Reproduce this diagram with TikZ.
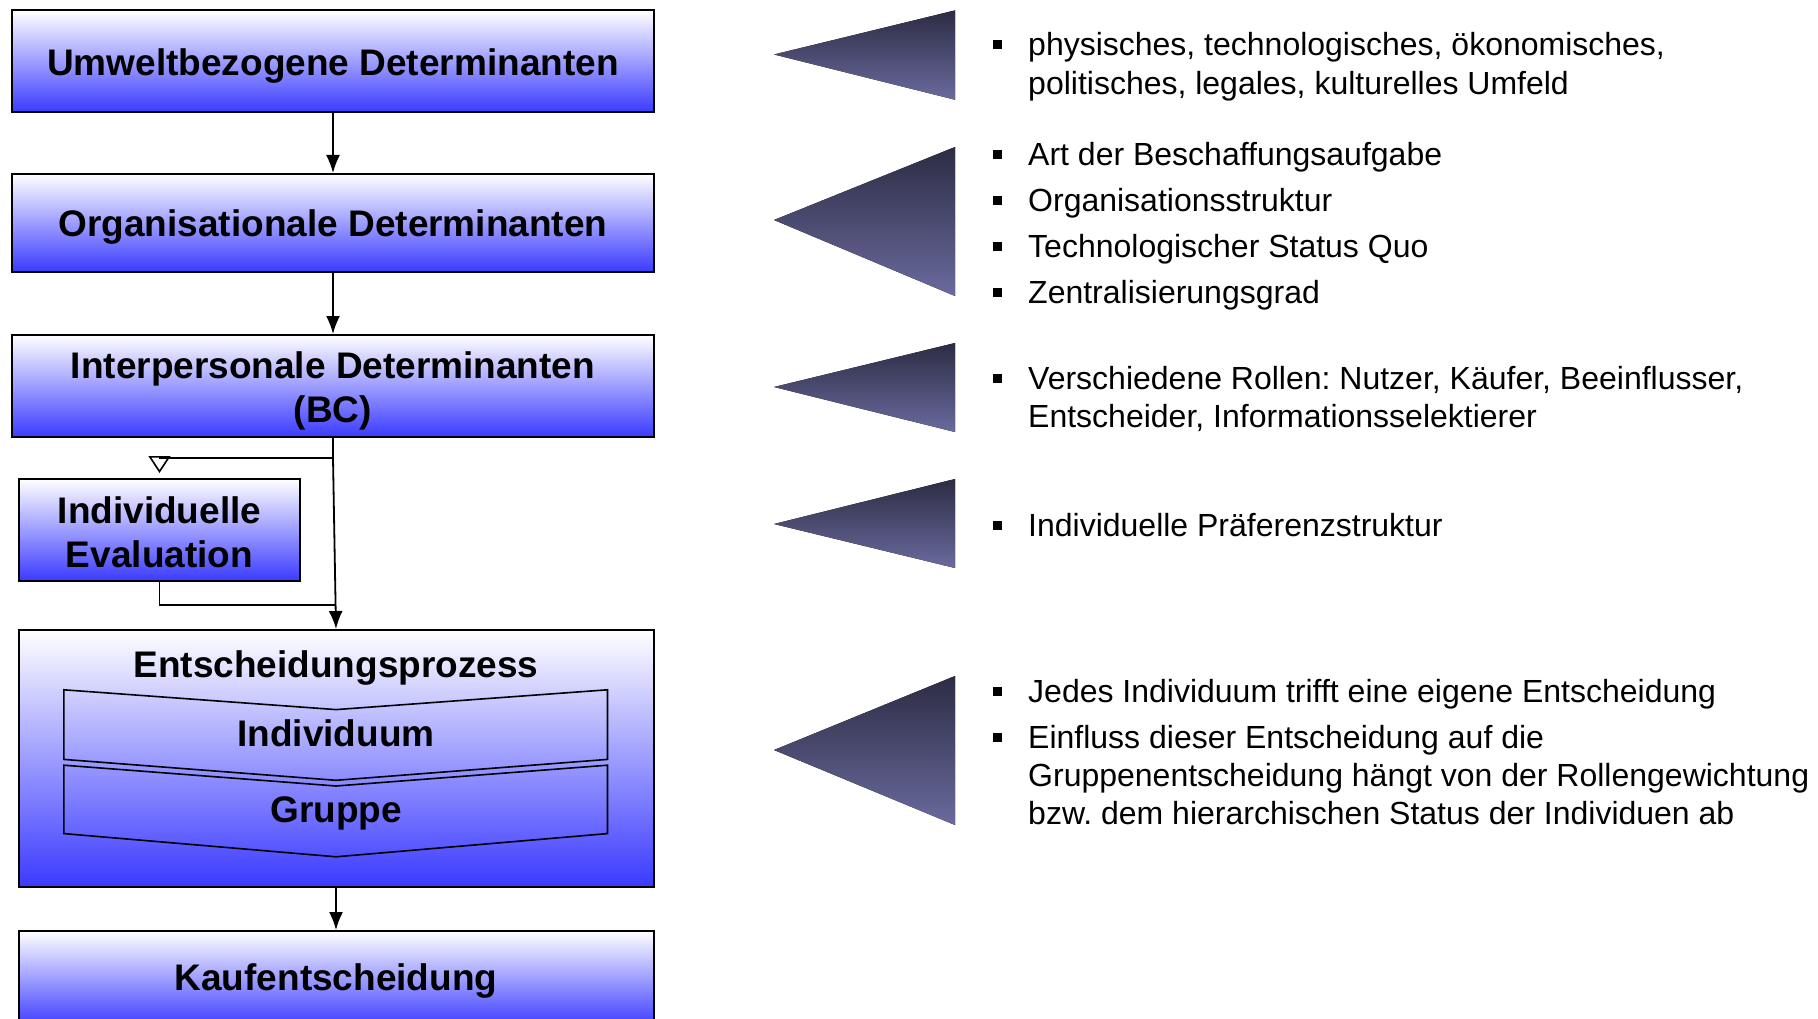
\documentclass[tikz,border=0pt]{standalone}
\usepackage{fontspec}
\setmainfont{Liberation Sans}
\usetikzlibrary{arrows.meta}
\definecolor{boxblue}{RGB}{58,58,255}
\definecolor{tridark}{RGB}{44,44,68}
\definecolor{trilight}{RGB}{106,106,158}
\frenchspacing
\begin{document}
\begin{tikzpicture}[x=1pt,y=-1pt,
  detbox/.style={draw=black, line width=2pt, top color=white, bottom color=boxblue, inner sep=0pt},
  boxtext/.style={font=\bfseries\fontsize{37}{44.5}\selectfont, align=center, inner sep=0pt},
  lbl/.style={font=\bfseries\fontsize{37}{44.5}\selectfont, inner sep=0pt, anchor=base},
  conn/.style={line width=1.8pt, -{Latex[length=18pt,width=14pt]}},
  openconn/.style={line width=1.8pt, shorten >=5pt, -{Triangle[open,length=17pt,width=22pt,line width=1.6pt]}},
  plainconn/.style={line width=1.8pt},
  chev/.style={draw=black, line width=1.6pt},
  tri/.style={top color=tridark, bottom color=trilight, draw=none},
  btext/.style={anchor=base west, font=\fontsize{32}{38.4}\selectfont, inner sep=0pt},
  bul/.style={fill=black, minimum size=9pt, inner sep=0pt}
]
\path[use as bounding box] (0,0) rectangle (1818,1019);
\clip (0,0) rectangle (1818,1019);
\fill[white] (0,0) rectangle (1818,1019);

% left column boxes
\node[detbox, minimum width=642pt, minimum height=102pt] (ud) at (333,61.5) {};
\node[boxtext] (udt) at (333,66) {Umweltbezogene Determinanten};
\node[detbox, minimum width=642pt, minimum height=98pt] (od) at (333,223) {};
\node[boxtext] (odt) at (333,227.5) {Organisationale Determinanten};
\node[detbox, minimum width=642pt, minimum height=102pt] (ip) at (333,386) {};
\node[boxtext] (ipt) at (333,391) {Interpersonale Determinanten\\(BC)};
\node[detbox, minimum width=281pt, minimum height=102pt] (ie) at (159.5,530) {};
\node[boxtext] (iet) at (159.5,532.5) {Individuelle\\Evaluation};
\node[detbox, minimum width=635pt, minimum height=257pt] (ep) at (336,758.5) {};
\node[lbl] (epl) at (336,677) {Entscheidungsprozess};
\node[detbox, minimum width=635pt, minimum height=96pt] (kf) at (336,979) {};
\node[boxtext] (kft) at (336,981.5) {Kaufentscheidung};

% chevrons inside the decision process
\draw[chev] (63.8,689.8) -- (336,709.6) -- (607.5,689.8) -- (607.5,759.4) -- (336,780.3) -- (63.8,759.4) -- cycle;
\draw[chev] (63.8,765.2) -- (336,786) -- (607.5,765.2) -- (607.5,833.6) -- (336,856.8) -- (63.8,833.6) -- cycle;
\node[lbl] (ind) at (336,746) {Individuum};
\node[lbl] (grp) at (336,822.5) {Gruppe};

% connectors
\draw[conn] (ud) -- (od);
\draw[conn] (od) -- (ip);
\coordinate (j1) at (333,458);
\coordinate (j2) at (335.5,605);
\draw[plainconn] (ip.south) -- (j1);
\draw[openconn] (j1) -| (ie.north);
\draw[conn] (j1) -- (ep.north);
\draw[plainconn] (ie.south) |- (j2);
\draw[conn] (ep) -- (kf);

% triangles
\fill[tri] (774,54.5) -- (955,10.4) -- (955,99.7) -- cycle;
\fill[tri] (774,220) -- (955,147) -- (955,296) -- cycle;
\fill[tri] (774,387) -- (955,343) -- (955,432) -- cycle;
\fill[tri] (774,524) -- (955,479) -- (955,568) -- cycle;
\fill[tri] (774,750) -- (955,676) -- (955,825) -- cycle;

% bullet texts
\node[btext] (t1a) at (1028,56) {physisches, technologisches, ökonomisches,};
\node[btext] (t1b) at (1028,94.4) {politisches, legales, kulturelles Umfeld};
\node[btext] (t2a) at (1028,165.5) {Art der Beschaffungsaufgabe};
\node[btext] (t2b) at (1028,211.5) {Organisationsstruktur};
\node[btext] (t2c) at (1028,257.5) {Technologischer Status Quo};
\node[btext] (t2d) at (1028,303.5) {Zentralisierungsgrad};
\node[btext] (t3a) at (1028,389) {Verschiedene Rollen: Nutzer, Käufer, Beeinflusser,};
\node[btext] (t3b) at (1028,427.4) {Entscheider, Informationsselektierer};
\node[btext] (t4a) at (1028,536) {Individuelle Präferenzstruktur};
\node[btext] (t5a) at (1028,702) {Jedes Individuum trifft eine eigene Entscheidung};
\node[btext] (t5b) at (1028,748) {Einfluss dieser Entscheidung auf die};
\node[btext] (t5c) at (1028,786.4) {Gruppenentscheidung hängt von der Rollengewichtung};
\node[btext] (t5d) at (1028,824.8) {bzw. dem hierarchischen Status der Individuen ab};

\node[bul] (q1) at (997.5,45) {};
\node[bul] (q2) at (997.5,154.5) {};
\node[bul] (q3) at (997.5,200.5) {};
\node[bul] (q4) at (997.5,246.5) {};
\node[bul] (q5) at (997.5,292.5) {};
\node[bul] (q6) at (997.5,378) {};
\node[bul] (q7) at (997.5,525) {};
\node[bul] (q8) at (997.5,691) {};
\node[bul] (q9) at (997.5,737) {};
\end{tikzpicture}
\end{document}
